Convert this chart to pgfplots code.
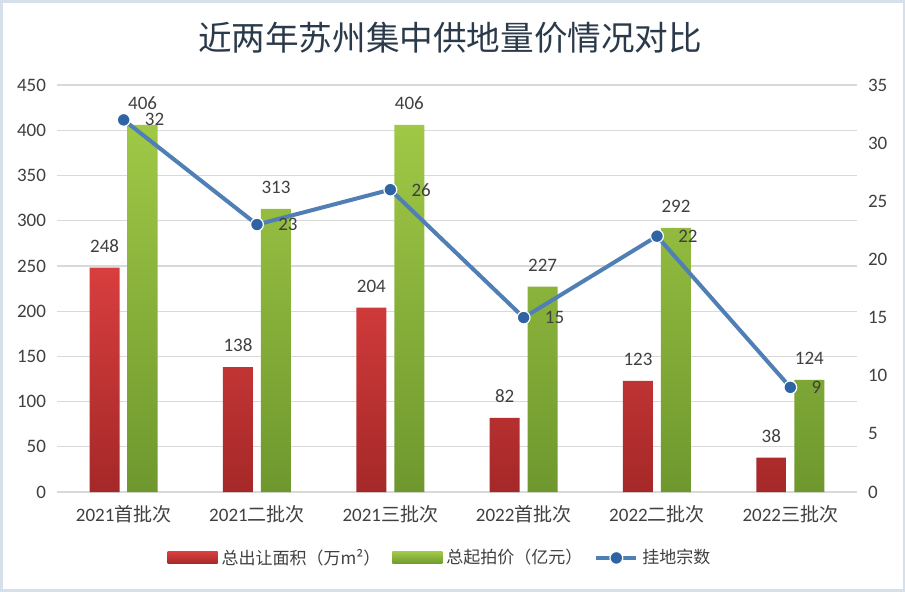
\documentclass[border=0pt]{standalone}
\usepackage{pgfplots}
\pgfplotsset{compat=1.18}
\usepackage{fontspec}
\setmainfont{Carlito}
\newfontfamily\cjk{Noto Sans CJK SC}
\definecolor{redT}{HTML}{D83E3E}
\definecolor{redB}{HTML}{A52828}
\definecolor{grnT}{HTML}{A0C846}
\definecolor{grnB}{HTML}{6E982E}
\definecolor{lineC}{HTML}{4F7FB5}
\definecolor{markC}{HTML}{2E64A4}
\definecolor{tickC}{HTML}{404040}
\definecolor{titleC}{HTML}{2B3A4A}
\definecolor{frameC}{HTML}{D5E0EA}
\begin{document}
\begin{tikzpicture}[x=1pt,y=1pt]
\path[use as bounding box, fill=white] (-28.5,-49.5) rectangle (424,246);
\draw[frameC, line width=1.5pt] (-28,-49) rectangle (423.5,245.5);
\node[text=titleC, font=\cjk\fontsize{16.8}{20}\selectfont] at (196.5,227) {近两年苏州集中供地量价情况对比};

\begin{axis}[
  at={(0,0)}, anchor=south west,
  scale only axis, width=400pt, height=203.5pt,
  xmin=-0.5, xmax=5.5,
  ymin=0, ymax=450,
  ytick={0,50,...,450},
  xtick={0,...,5},
  xticklabels={2021{\cjk 首批次},2021{\cjk 二批次},2021{\cjk 三批次},2022{\cjk 首批次},2022{\cjk 二批次},2022{\cjk 三批次}},
  axis line style={draw=none},
  ymajorgrids=true,
  grid style={color=black!15, line width=0.6pt},
  major tick length=0pt,
  tick label style={font=\fontsize{9.5}{11}\selectfont, text=tickC},
  yticklabel style={xshift=-2pt},
  xticklabel style={yshift=-3pt},
  /pgf/number format/assume math mode=true,
  nodes near coords,
  every node near coord/.append style={font=\fontsize{9.5}{11}\selectfont, text=tickC, anchor=south, yshift=4pt},
  legend style={at={(0.48,-0.162)}, anchor=center, draw=none, fill=none,
    font=\cjk\fontsize{8.5}{10}\selectfont, text=tickC,
    /tikz/every even column/.append style={column sep=4pt}},
  legend columns=-1,
]
\addplot[ybar, bar width=15pt, bar shift=-9.5pt, draw=none, top color=redT, bottom color=redB,
  every node near coord/.append style={xshift=-9.5pt},
  legend image code/.code={\shade[top color=redT, bottom color=redB] (0pt,-3pt) rectangle (25pt,3pt);}]
  coordinates {(0,248)(1,138)(2,204)(3,82)(4,123)(5,38)};
\addlegendentry{总出让面积（万m²）}
\addplot[ybar, bar width=15pt, bar shift=9.5pt, draw=none, top color=grnT, bottom color=grnB,
  every node near coord/.append style={xshift=9.5pt},
  legend image code/.code={\shade[top color=grnT, bottom color=grnB] (0pt,-3pt) rectangle (25pt,3pt);}]
  coordinates {(0,406)(1,313)(2,406)(3,227)(4,292)(5,124)};
\addlegendentry{总起拍价（亿元）}
\addlegendimage{line width=2pt, color=lineC,
  legend image code/.code={\draw[line width=2pt, color=lineC] (0pt,0pt) -- (20pt,0pt);
    \filldraw[fill=markC, draw=white, line width=0.6pt] (10pt,0pt) circle (3.2pt);}}
\addlegendentry{挂地宗数}
\end{axis}

\begin{axis}[
  at={(0,0)}, anchor=south west,
  scale only axis, width=400pt, height=203.5pt,
  xmin=-0.5, xmax=5.5,
  ymin=0, ymax=35,
  ytick={0,5,...,35},
  axis x line=none,
  axis y line*=right,
  axis line style={draw=none},
  major tick length=0pt,
  tick label style={font=\fontsize{9.5}{11}\selectfont, text=tickC},
  yticklabel style={xshift=2pt},
  /pgf/number format/assume math mode=true,
  nodes near coords,
  every node near coord/.append style={font=\fontsize{9.5}{11}\selectfont, text=tickC, anchor=west, xshift=7pt},
]
\addplot[line width=2pt, color=lineC, mark=*, mark size=3.2pt, mark options={fill=markC, draw=white, line width=0.6pt}]
  coordinates {(0,32)(1,23)(2,26)(3,15)(4,22)(5,9)};
\end{axis}
\end{tikzpicture}
\end{document}
